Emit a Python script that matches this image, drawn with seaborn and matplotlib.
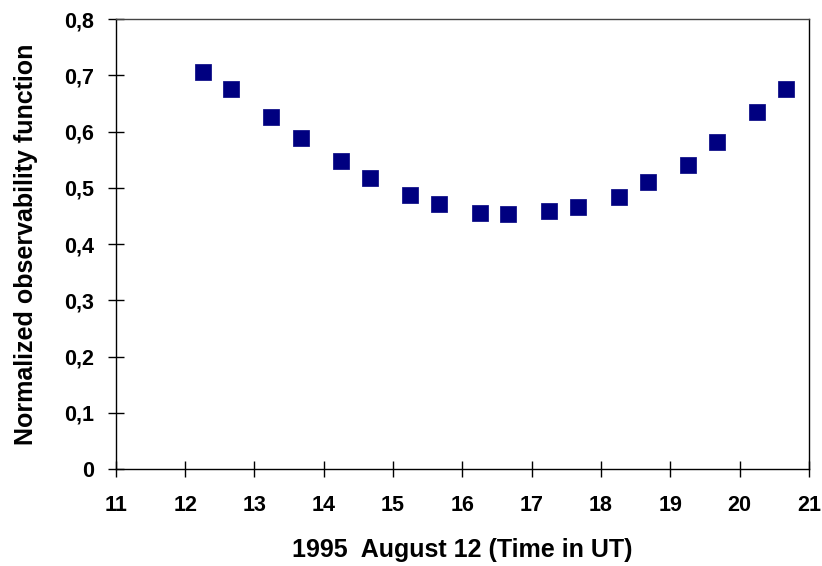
import matplotlib
matplotlib.use("Agg")
import matplotlib.pyplot as plt
from matplotlib.ticker import FuncFormatter, MultipleLocator
import pandas as pd
import seaborn as sns

# hours UT on 1995 August 12
time_ut = [12.26, 12.66, 13.24, 13.67, 14.25, 14.67, 15.24, 15.66, 16.25,
           16.66, 17.25, 17.67, 18.26, 18.68, 19.25, 19.67, 20.25, 20.67]
observability = [0.706, 0.676, 0.626, 0.588, 0.548, 0.517, 0.487, 0.471, 0.455,
                 0.453, 0.459, 0.466, 0.484, 0.510, 0.540, 0.581, 0.635, 0.676]

sns.set_style("white")
plt.rcParams["font.family"] = ["Liberation Sans", "DejaVu Sans"]
plt.rcParams["font.weight"] = "bold"
plt.rcParams["text.color"] = "black"
plt.rcParams["axes.labelcolor"] = "black"
plt.rcParams["xtick.color"] = "black"
plt.rcParams["ytick.color"] = "black"

data = pd.DataFrame({"time": time_ut, "obs": observability})

fig = plt.figure(figsize=(8.22, 5.66), dpi=100)
ax = fig.add_axes([0.141, 0.171, 0.843, 0.795])

sns.scatterplot(data=data, x="time", y="obs", ax=ax, marker="s", s=120,
                color="#000080", edgecolor="#000080", linewidth=0.5, zorder=3)

ax.set_xlim(11, 21)
ax.set_ylim(0, 0.8)
ax.xaxis.set_major_locator(MultipleLocator(1))
ax.yaxis.set_major_locator(MultipleLocator(0.1))
ax.yaxis.set_major_formatter(
    FuncFormatter(lambda v, _: "0" if abs(v) < 1e-9 else f"{v:.1f}".replace(".", ","))
)
ax.tick_params(axis="both", bottom=True, left=True, direction="inout",
               length=11.5, width=1, color="black", labelcolor="black",
               labelsize=15.5)
ax.tick_params(axis="x", pad=13)
ax.tick_params(axis="y", pad=10)
for lab in ax.get_xticklabels() + ax.get_yticklabels():
    lab.set_fontweight("bold")

for side in ["left", "bottom", "top", "right"]:
    ax.spines[side].set_visible(True)
    ax.spines[side].set_color("black")
    ax.spines[side].set_linewidth(1)
ax.spines["top"].set_color("#444444")

ax.set_xlabel("1995  August 12 (Time in UT)", fontsize=18, fontweight="bold",
              color="black", labelpad=16)
ax.set_ylabel("Normalized observability function", fontsize=18, fontweight="bold",
              color="black", labelpad=19)

fig.savefig("out.png", dpi=100)
